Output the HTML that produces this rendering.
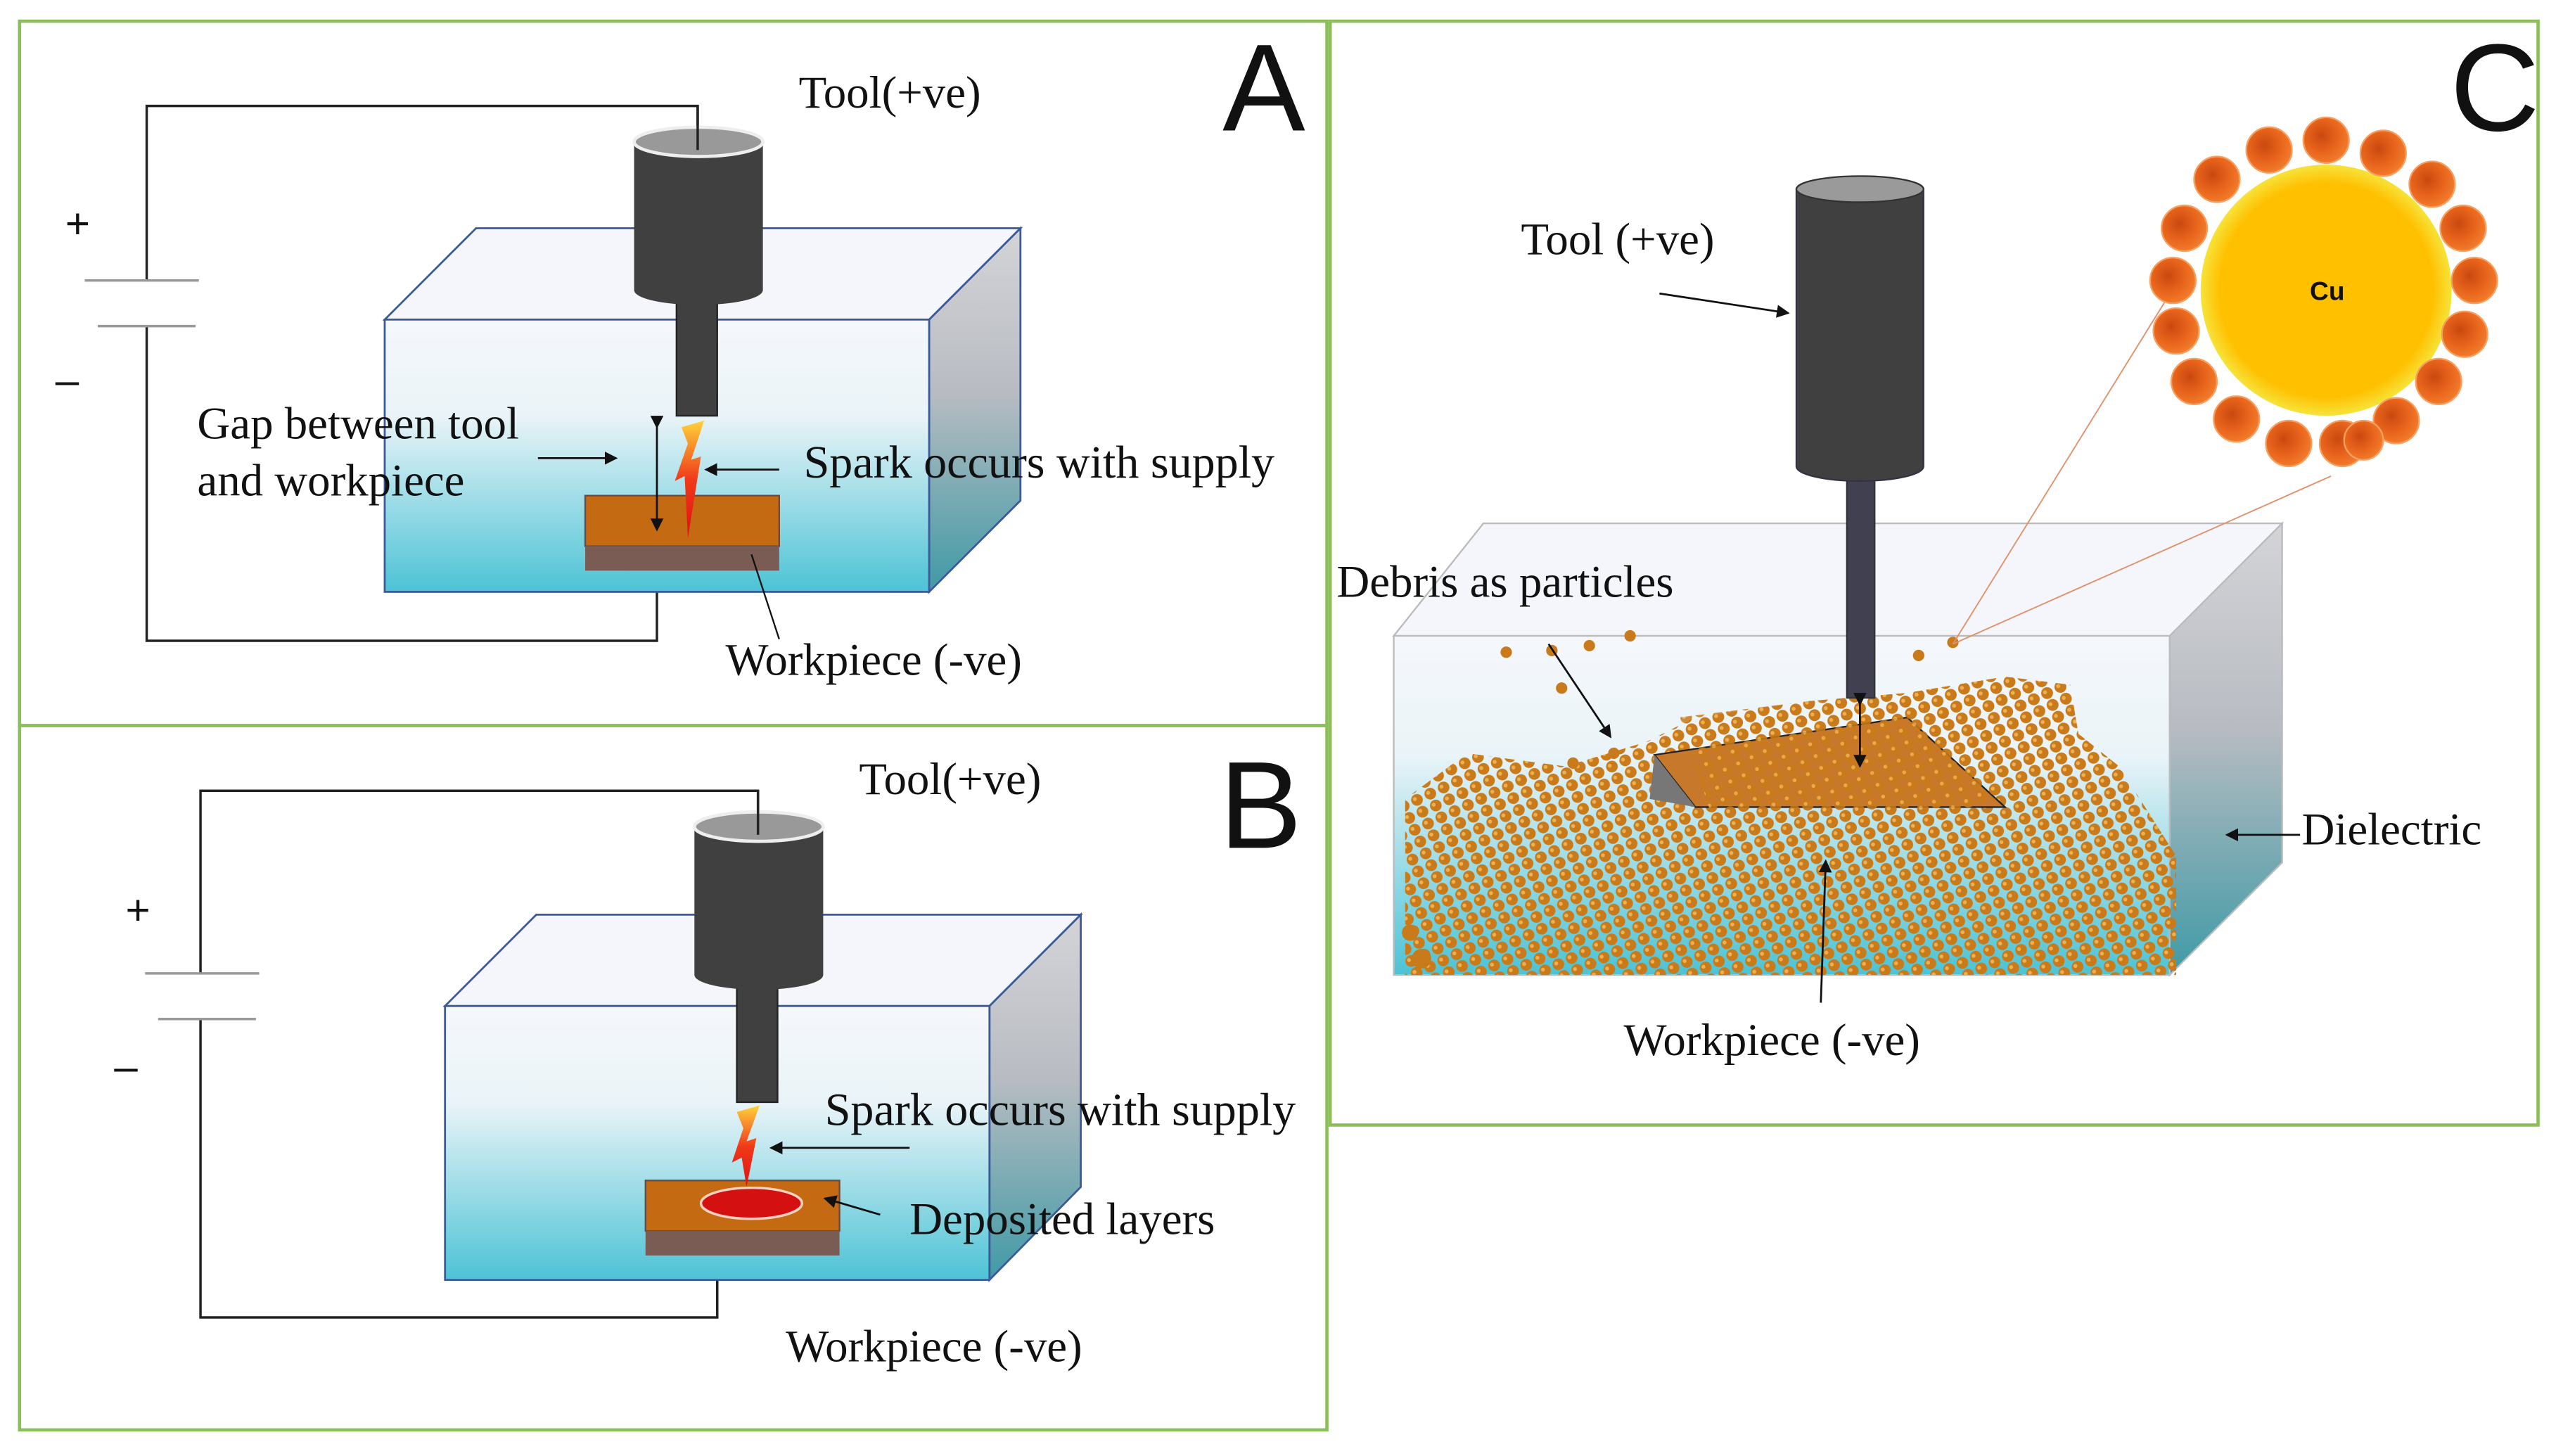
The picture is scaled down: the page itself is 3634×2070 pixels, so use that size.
<!DOCTYPE html>
<html><head><meta charset="utf-8"><style>html,body{margin:0;padding:0;background:#fff}svg{display:block}text{font-family:"Liberation Serif",serif;fill:#111}text.s{font-family:"Liberation Sans",sans-serif}</style></head><body>
<svg width="3634" height="2070" viewBox="0 0 1568 893" preserveAspectRatio="none" xmlns="http://www.w3.org/2000/svg">
<defs>
<linearGradient id="fr" x1="0" y1="0" x2="0" y2="1"><stop offset="0" stop-color="#f5f7fb"/><stop offset="0.35" stop-color="#eaf4f8"/><stop offset="1" stop-color="#4cc3d5"/></linearGradient>
<linearGradient id="rt" x1="0" y1="0" x2="0" y2="1"><stop offset="0" stop-color="#d4d4d8"/><stop offset="0.45" stop-color="#b8bcc2"/><stop offset="1" stop-color="#3f9aa6"/></linearGradient>
<linearGradient id="sp" x1="0" y1="0" x2="0" y2="1"><stop offset="0" stop-color="#ffd23a"/><stop offset="0.5" stop-color="#f03a1a"/><stop offset="1" stop-color="#e01010"/></linearGradient>
<radialGradient id="cu" cx="0.5" cy="0.5" r="0.5"><stop offset="0.85" stop-color="#ffc000"/><stop offset="1" stop-color="#f6e33a"/></radialGradient>
<radialGradient id="ob" cx="0.4" cy="0.4" r="0.6"><stop offset="0" stop-color="#c9480f"/><stop offset="0.6" stop-color="#e8641c"/><stop offset="1" stop-color="#f07a2a"/></radialGradient>
<pattern id="dots" width="9" height="8" patternUnits="userSpaceOnUse" patternTransform="rotate(-25)"><circle cx="4.5" cy="4" r="3.6" fill="#c97a1a"/><circle cx="3.5" cy="3" r="1.2" fill="#f0b050"/></pattern>
<marker id="ah" markerWidth="8" markerHeight="8" refX="7" refY="4" orient="auto" markerUnits="userSpaceOnUse"><path d="M0,0 L8,4 L0,8 z" fill="#111"/></marker>
</defs>
<rect width="1568" height="893" fill="#fff"/>
<g fill="none" stroke="#8cbf5a" stroke-width="2">
<rect x="12" y="13" width="802" height="432"/><rect x="12" y="445" width="802" height="432"/><rect x="816" y="13" width="741" height="677"/>
</g>
<!-- Panel A -->
<g stroke="#222" stroke-width="1.5" fill="none">
<polyline points="90,172 90,65 428,65 428,92"/><polyline points="90,200 90,393 403,393 403,363"/>
</g>
<line x1="52" y1="172" x2="122" y2="172" stroke="#999" stroke-width="1.5"/><line x1="60" y1="200" x2="120" y2="200" stroke="#999" stroke-width="1.5"/>
<text class="s" x="40" y="146" font-size="26">+</text><text class="s" x="34" y="242" font-size="26">–</text>
<polygon points="236,196 292,140 626,140 570,196" fill="#f4f6fb" stroke="#3a5a9a" stroke-width="1.2"/>
<polygon points="570,196 626,140 626,307 570,363" fill="url(#rt)" stroke="#3a5a9a" stroke-width="1.2"/>
<rect x="236" y="196" width="334" height="167" fill="url(#fr)" stroke="#3a5a9a" stroke-width="1.2"/>
<rect x="359" y="304" width="119" height="31" fill="#c46a12" stroke="#6a4a40" stroke-width="1"/><rect x="359" y="335" width="119" height="15" fill="#7a5c55"/>
<rect x="415" y="185" width="25" height="70" fill="#404040" stroke="#222"/>
<path d="M389,87 L389,178 A39.5,9 0 0 0 468,178 L468,87 Z" fill="#404040"/><ellipse cx="428.5" cy="87" rx="39.5" ry="9" fill="#999" stroke="#eee" stroke-width="2"/>
<line x1="428" y1="65" x2="428" y2="92" stroke="#222" stroke-width="1.5"/>
<polygon points="418,262 432,258 424,282 430,280 422,330 420,292 414,295 422,272" fill="url(#sp)"/>
<line x1="403" y1="262" x2="403" y2="325" stroke="#111" stroke-width="1.2" marker-end="url(#ah)" marker-start="url(#ah)"/>
<line x1="330" y1="281" x2="378" y2="281" stroke="#111" stroke-width="1.2" marker-end="url(#ah)"/>
<line x1="478" y1="288" x2="433" y2="288" stroke="#111" stroke-width="1.2" marker-end="url(#ah)"/>
<line x1="478" y1="392" x2="461" y2="340" stroke="#111" stroke-width="1"/>
<text x="490" y="66" font-size="28">Tool(+ve)</text>
<text x="121" y="269" font-size="28">Gap between tool</text><text x="121" y="304" font-size="28">and workpiece</text>
<text x="493" y="293" font-size="28.5">Spark occurs with supply</text>
<text x="445" y="414" font-size="28">Workpiece (-ve)</text>
<text class="s" x="750" y="80" font-size="76">A</text>
<!-- Panel B -->
<g stroke="#222" stroke-width="1.5" fill="none">
<polyline points="123,597 123,485 465,485 465,510"/><polyline points="123,625 123,808 440,808 440,785"/>
</g>
<line x1="89" y1="597" x2="159" y2="597" stroke="#999" stroke-width="1.5"/><line x1="97" y1="625" x2="157" y2="625" stroke="#999" stroke-width="1.5"/>
<text class="s" x="77" y="567" font-size="26">+</text><text class="s" x="70" y="663" font-size="26">–</text>
<polygon points="273,617 329,561 663,561 607,617" fill="#f4f6fb" stroke="#3a5a9a" stroke-width="1.2"/>
<polygon points="607,617 663,561 663,728 607,785" fill="url(#rt)" stroke="#3a5a9a" stroke-width="1.2"/>
<rect x="273" y="617" width="334" height="168" fill="url(#fr)" stroke="#3a5a9a" stroke-width="1.2"/>
<rect x="396" y="724" width="119" height="31" fill="#c46a12" stroke="#6a4a40" stroke-width="1"/><rect x="396" y="755" width="119" height="15" fill="#7a5c55"/>
<ellipse cx="461" cy="738" rx="31" ry="9.5" fill="#d41010" stroke="#f4d0c0" stroke-width="1.5"/>
<rect x="452" y="606" width="25" height="70" fill="#404040" stroke="#222"/>
<path d="M426,507 L426,598 A39.5,9 0 0 0 505,598 L505,507 Z" fill="#404040"/><ellipse cx="465.5" cy="507" rx="39.5" ry="9" fill="#999" stroke="#eee" stroke-width="2"/>
<line x1="465" y1="485" x2="465" y2="512" stroke="#222" stroke-width="1.5"/>
<polygon points="452,682 466,678 458,700 464,698 458,728 455,710 449,713 456,692" fill="url(#sp)"/>
<line x1="558" y1="704" x2="473" y2="704" stroke="#111" stroke-width="1.2" marker-end="url(#ah)"/>
<line x1="540" y1="745" x2="506" y2="735" stroke="#111" stroke-width="1.2" marker-end="url(#ah)"/>
<text x="527" y="487" font-size="28">Tool(+ve)</text>
<text x="506" y="690" font-size="28.5">Spark occurs with supply</text>
<text x="558" y="757" font-size="28">Deposited layers</text>
<text x="482" y="835" font-size="28">Workpiece (-ve)</text>
<text class="s" x="748" y="520" font-size="76">B</text>
<!-- Panel C -->
<polygon points="855,390 910,321 1400,321 1331,390" fill="#f4f6fb" stroke="#bbb" stroke-width="1"/>
<polygon points="1331,390 1400,321 1400,529 1331,598" fill="url(#rt)" stroke="#bbb" stroke-width="1"/>
<rect x="855" y="390" width="476" height="208" fill="url(#fr)" stroke="#bbb" stroke-width="1"/>
<path d="M862,490 L900,462 L960,470 L1010,455 L1040,440 L1110,430 L1170,425 L1230,415 L1270,420 L1275,450 L1300,470 L1335,525 L1335,598 L862,598 Z" fill="url(#dots)"/>
<polygon points="1015,463 1170,440 1230,495 1040,495" fill="#c8782a" stroke="#222" stroke-width="1"/>
<polygon points="1015,463 1040,495 1012,490" fill="#777"/>
<path d="M1030,440 L1110,430 L1170,425 L1230,415 L1270,420 L1270,470 L1200,500 L1100,520 L1050,500 Z" fill="url(#dots)" opacity="0.85"/>
<g fill="#c97a1a">
<circle cx="924" cy="400" r="3.5"/><circle cx="952" cy="399" r="3.5"/><circle cx="975" cy="396" r="3.5"/><circle cx="1000" cy="390" r="3.5"/><circle cx="958" cy="422" r="3.5"/><circle cx="990" cy="462" r="3.5"/><circle cx="965" cy="468" r="3.5"/><circle cx="1177" cy="402" r="3.5"/><circle cx="1198" cy="394" r="3.5"/><circle cx="872" cy="588" r="6"/><circle cx="865" cy="572" r="5"/>
</g>
<rect x="1133" y="288" width="17" height="140" fill="#404050" stroke="#333"/>
<path d="M1102,116 L1102,286 A39,9 0 0 0 1180,286 L1180,116 Z" fill="#404040" stroke="#334" stroke-width="1"/><ellipse cx="1141" cy="116" rx="39" ry="8" fill="#9a9a9a" stroke="#333" stroke-width="1"/>
<line x1="1141" y1="432" x2="1141" y2="470" stroke="#111" stroke-width="1.2" marker-end="url(#ah)" marker-start="url(#ah)"/>
<line x1="1198" y1="395" x2="1330" y2="182" stroke="#e0906a" stroke-width="0.8"/><line x1="1198" y1="395" x2="1430" y2="292" stroke="#e0906a" stroke-width="0.8"/>
<circle cx="1427" cy="178" r="77" fill="url(#cu)"/>
<g fill="url(#ob)" stroke="#f5a060" stroke-width="1">
<circle cx="1427" cy="86" r="14"/><circle cx="1462" cy="94" r="14"/><circle cx="1492" cy="113" r="14"/><circle cx="1511" cy="140" r="14"/><circle cx="1518" cy="172" r="14"/><circle cx="1512" cy="205" r="14"/><circle cx="1496" cy="234" r="14"/><circle cx="1470" cy="258" r="14"/><circle cx="1437" cy="272" r="14"/><circle cx="1404" cy="272" r="14"/><circle cx="1372" cy="257" r="14"/><circle cx="1346" cy="234" r="14"/><circle cx="1335" cy="203" r="14"/><circle cx="1333" cy="172" r="14"/><circle cx="1340" cy="140" r="14"/><circle cx="1360" cy="110" r="14"/><circle cx="1392" cy="92" r="14"/><circle cx="1450" cy="270" r="12"/>
</g>
<text class="s" x="1417" y="184" font-size="16" font-weight="bold">Cu</text>
<line x1="1018" y1="180" x2="1097" y2="192" stroke="#111" stroke-width="1.2" marker-end="url(#ah)"/>
<line x1="950" y1="395" x2="988" y2="452" stroke="#111" stroke-width="1.2" marker-end="url(#ah)"/>
<line x1="1411" y1="512" x2="1366" y2="512" stroke="#111" stroke-width="1.2" marker-end="url(#ah)"/>
<line x1="1117" y1="615" x2="1120" y2="528" stroke="#111" stroke-width="1.2" marker-end="url(#ah)"/>
<text x="933" y="156" font-size="28">Tool (+ve)</text>
<text x="820" y="366" font-size="28">Debris as particles</text>
<text x="1412" y="518" font-size="28">Dielectric</text>
<text x="996" y="647" font-size="28">Workpiece (-ve)</text>
<text class="s" x="1503" y="80" font-size="76">C</text>
</svg>
</body></html>
